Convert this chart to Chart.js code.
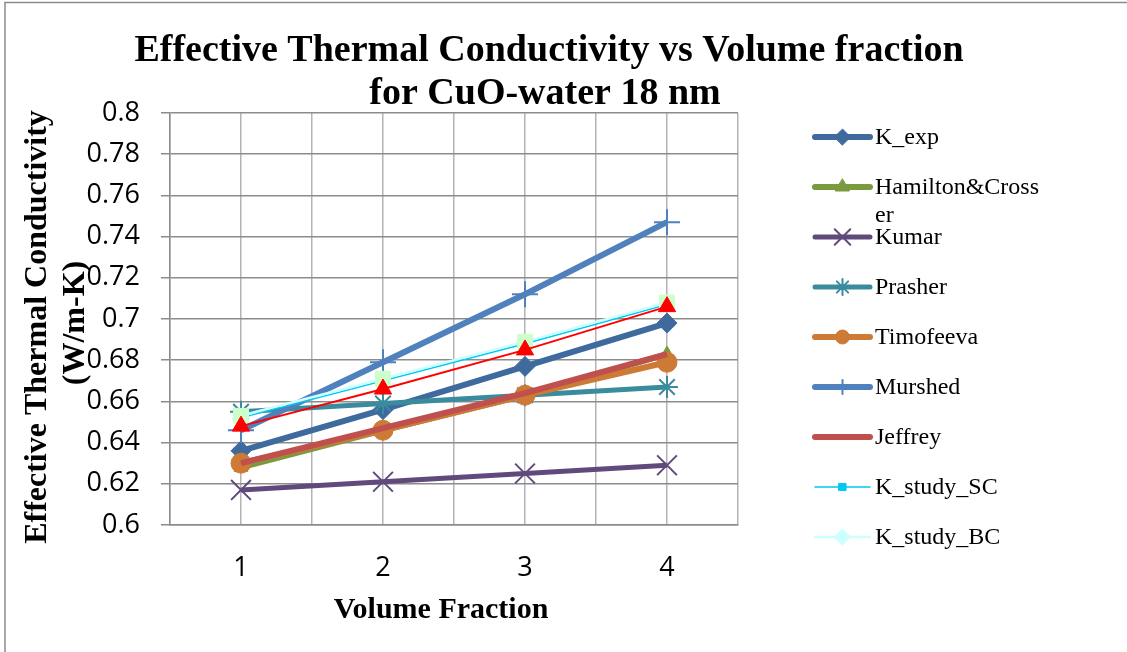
<!DOCTYPE html>
<html>
<head>
<meta charset="utf-8">
<script src="https://cdn.jsdelivr.net/npm/chart.js@4.4.1/dist/chart.umd.min.js"></script>
<style>
  html, body { margin: 0; padding: 0; background: #fff; }
  #wrap { position: relative; width: 1127px; height: 652px; }
</style>
</head>
<body>
<div id="wrap"><canvas id="chart" width="1127" height="652"></canvas></div>
<script>
// data
const volumeFractions = [1, 2, 3, 4];
const kExp = [0.636, 0.656, 0.677, 0.698];
const hamiltonCrosser = [0.628, 0.646, 0.663, 0.683];
const kumar = [0.617, 0.621, 0.625, 0.629];
const prasher = [0.655, 0.659, 0.663, 0.667];
const timofeeva = [0.630, 0.646, 0.663, 0.679];
const murshed = [0.646, 0.679, 0.712, 0.747];
const jeffrey = [0.630, 0.647, 0.664, 0.683];
const kStudySC = [0.652, 0.670, 0.688, 0.707];
const kStudyBC = [0.653, 0.671, 0.689, 0.708];
const extraSeries = [0.648, 0.666, 0.685, 0.706]; // red triangles, not in legend

const legendLabels = [
  ['K_exp'],
  ['Hamilton&Cross', 'er'],
  ['Kumar'],
  ['Prasher'],
  ['Timofeeva'],
  ['Murshed'],
  ['Jeffrey'],
  ['K_study_SC'],
  ['K_study_BC']
];

const titleLines = ['Effective Thermal Conductivity vs Volume fraction', 'for CuO-water 18 nm'];
const yTitleLines = ['Effective Thermal Conductivity', '(W/m-K)'];
const xTitle = 'Volume Fraction';

const toPoints = arr => arr.map((v, i) => ({ x: volumeFractions[i], y: v }));

function series(label, values, color, opts) {
  return Object.assign({
    label: label,
    data: toPoints(values),
    borderColor: color,
    backgroundColor: color,
    pointBorderColor: color,
    pointBackgroundColor: color,
    borderWidth: 6,
    pointRadius: 9,
    pointBorderWidth: 1,
    pointStyle: 'circle',
    tension: 0,
    fill: false
  }, opts);
}

const datasets = [
  series('K_exp', kExp, '#3F6A9E', { pointStyle: 'rectRot', pointRadius: 10, legendRadius: 8 }),
  series('Hamilton&Crosser', hamiltonCrosser, '#7A9A3E', { pointStyle: 'triangle', pointRadius: 8, legendRadius: 8 }),
  series('Kumar', kumar, '#604A7B', { borderWidth: 5, pointStyle: 'crossRot', pointRadius: 14, pointBorderWidth: 2, legendRadius: 11 }),
  series('Prasher', prasher, '#3B8B9E', { borderWidth: 5, pointStyle: 'star', pointRadius: 11, pointBorderWidth: 2, legendRadius: 8 }),
  series('Timofeeva', timofeeva, '#CC7A35', { pointStyle: 'circle', pointRadius: 10, legendRadius: 7 }),
  series('Murshed', murshed, '#4F81BD', { pointStyle: 'cross', pointRadius: 13, pointBorderWidth: 2, legendRadius: 7 }),
  series('Jeffrey', jeffrey, '#C0504D', { pointRadius: 0 }),
  series('K_study_SC', kStudySC, '#00C8F5', { borderWidth: 1.5, pointStyle: 'rect', pointRadius: 4, legendRadius: 5 }),
  series('K_study_BC', kStudyBC, '#CCFFFF', { borderWidth: 2.5, pointStyle: 'rect', pointRadius: 10.5,
    pointBackgroundColor: '#CCFFCC', pointBorderColor: '#CCFFCC', legendStyle: 'rectRot', legendColor: '#CCFFFF', legendRadius: 8 }),
  series('', extraSeries, '#FF0000', { borderWidth: 2, pointStyle: 'triangle', pointRadius: 10 })
];
// later series on top, like the original
datasets.forEach((d, i) => { d.order = 100 - i; });

const PLOT = { left: 170, top: 113, right: 738, bottom: 525 };

// titles, axis titles and the side legend
const decorations = {
  id: 'decorations',
  afterDraw(chart) {
    const ctx = chart.ctx;
    ctx.save();

    // frame edges
    ctx.strokeStyle = '#8c8c8c';
    ctx.lineWidth = 1.5;
    ctx.beginPath();
    ctx.moveTo(5, 652);
    ctx.lineTo(5, 2.5);
    ctx.lineTo(1127, 2.5);
    ctx.stroke();

    ctx.fillStyle = '#000';
    ctx.textAlign = 'center';
    ctx.textBaseline = 'alphabetic';
    ctx.font = 'bold 38px "Liberation Serif", "Times New Roman", serif';
    ctx.fillText(titleLines[0], 549, 61);
    ctx.fillText(titleLines[1], 545, 104);

    ctx.font = 'bold 30px "Liberation Serif", serif';
    ctx.textBaseline = 'middle';
    ctx.fillText(xTitle, 441, 610);

    ctx.font = 'bold 32px "Liberation Serif", serif';
    ctx.save();
    ctx.translate(38, 327);
    ctx.rotate(-Math.PI / 2);
    ctx.fillText(yTitleLines[0], 0, 0);
    ctx.restore();
    ctx.save();
    ctx.translate(76, 323);
    ctx.rotate(-Math.PI / 2);
    ctx.fillText(yTitleLines[1], 0, 0);
    ctx.restore();

    // legend
    const lx0 = 815, lx1 = 870, tx = 875;
    legendLabels.forEach((lines, i) => {
      const ds = chart.data.datasets[i];
      const y = 137 + i * 50;
      ctx.strokeStyle = ds.borderColor;
      ctx.lineWidth = Math.max(ds.borderWidth, 1.5);
      ctx.lineCap = 'round';
      ctx.beginPath();
      ctx.moveTo(lx0, y);
      ctx.lineTo(lx1, y);
      ctx.stroke();
      if (ds.pointRadius > 0 && Chart.helpers && Chart.helpers.drawPoint) {
        const c = ds.legendColor || ds.pointBackgroundColor;
        ctx.fillStyle = c;
        ctx.strokeStyle = ds.legendColor || ds.pointBorderColor;
        ctx.lineWidth = ds.pointBorderWidth;
        Chart.helpers.drawPoint(ctx, {
          pointStyle: ds.legendStyle || ds.pointStyle,
          radius: ds.legendRadius || 7,
          rotation: 0,
          borderWidth: ds.pointBorderWidth
        }, (lx0 + lx1) / 2, y);
      }
      ctx.fillStyle = '#000';
      ctx.textAlign = 'left';
      ctx.textBaseline = 'middle';
      ctx.font = '24px "Liberation Serif", "Times New Roman", serif';
      lines.forEach((t, k) => ctx.fillText(t, tx, y + 1 + k * 28));
    });

    ctx.restore();
  }
};

new Chart(document.getElementById('chart').getContext('2d'), {
  type: 'line',
  data: { datasets: datasets },
  plugins: [decorations],
  options: {
    responsive: false,
    animation: false,
    events: [],
    layout: {
      padding: { left: 60, top: PLOT.top, right: 1127 - PLOT.right, bottom: 0 }
    },
    plugins: {
      legend: { display: false },
      title: { display: false },
      tooltip: { enabled: false }
    },
    scales: {
      x: {
        type: 'linear',
        min: 0.5,
        max: 4.5,
        afterBuildTicks: s => {
          const t = [];
          for (let v = 0.5; v <= 4.5; v += 0.5) t.push({ value: v });
          s.ticks = t;
        },
        afterFit: s => { s.height = 652 - PLOT.bottom; },
        ticks: {
          autoSkip: false,
          maxRotation: 0,
          padding: 27,
          color: '#000',
          font: { family: '"Open Sans", "Liberation Sans", sans-serif', size: 27 },
          callback: v => (Number.isInteger(v) ? String(v) : '')
        },
        grid: { color: '#b4b4b4', lineWidth: 1.5, drawTicks: false },
        border: { color: '#8c8c8c', width: 1.5 }
      },
      y: {
        min: 0.6,
        max: 0.8,
        afterFit: s => { s.width = PLOT.left - 60; },
        ticks: {
          stepSize: 0.02,
          padding: 21,
          color: '#000',
          font: { family: '"Open Sans", "Liberation Sans", sans-serif', size: 27 },
          callback: v => String(Number(v.toFixed(2)))
        },
        grid: { color: '#8c8c8c', lineWidth: 1.5, tickLength: 9, tickColor: '#8c8c8c' },
        border: { color: '#8c8c8c', width: 1.5 }
      }
    }
  }
});
</script>
</body>
</html>
